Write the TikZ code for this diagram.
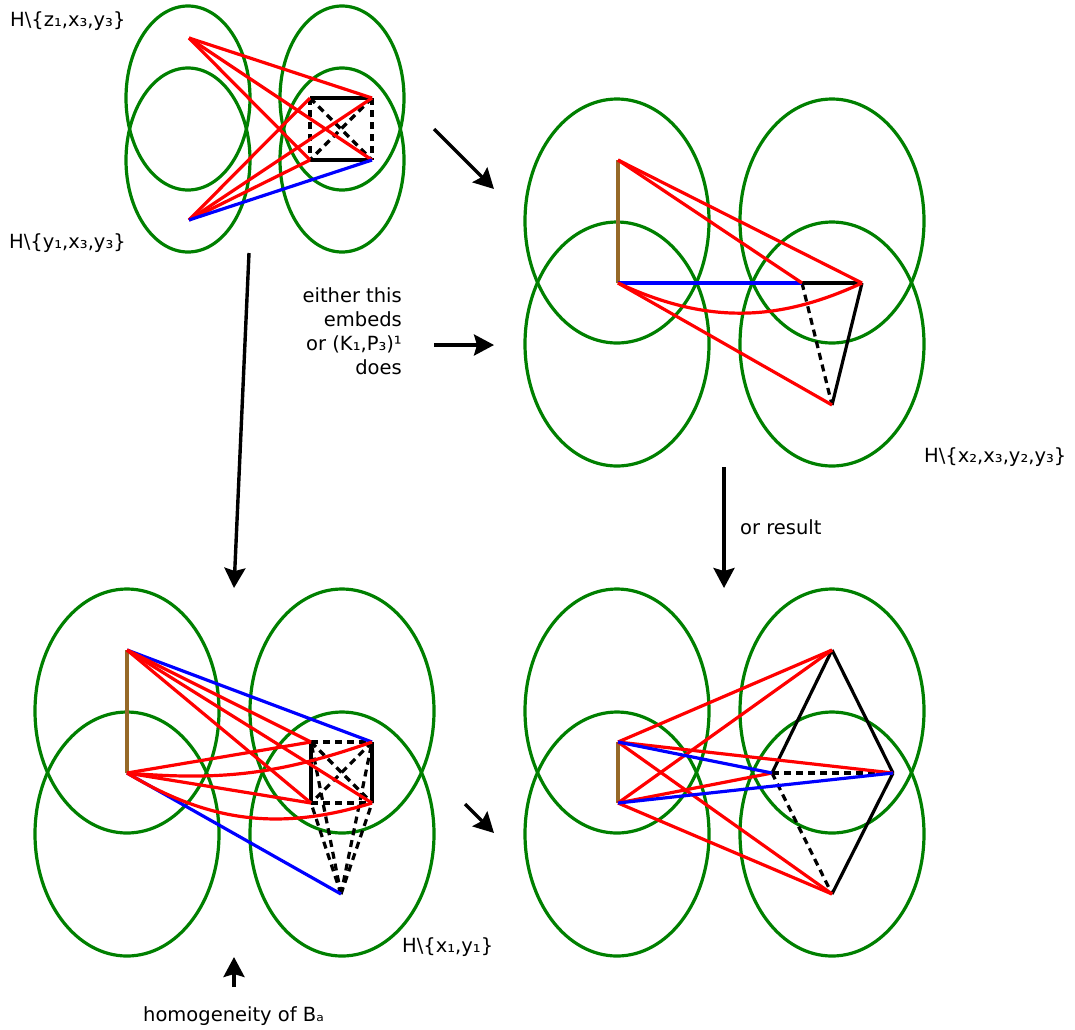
\documentclass[tikz,border=0pt]{standalone}
\usepackage{fontspec}
\setmainfont{DejaVu Sans}
\usetikzlibrary{arrows.meta}
\definecolor{ringgreen}{RGB}{0,128,0}
\definecolor{brownedge}{RGB}{150,105,40}

\begin{document}
\begin{tikzpicture}[x=1pt,y=-1pt,
  ring/.style={draw=ringgreen, line width=3.2pt},
  redge/.style={draw=red, line width=3.2pt},
  bedge/.style={draw=blue, line width=3.2pt},
  kedge/.style={draw=black, line width=3.2pt},
  kdash/.style={draw=black, line width=3.2pt, dash pattern=on 7pt off 5pt},
  oedge/.style={draw=brownedge, line width=3.2pt},
  flow/.style={draw=black, line width=3.4pt, -{Stealth[length=20pt,width=21pt,inset=3pt]}},
  lbl/.style={inner sep=0pt, font=\fontsize{19.5}{24}\selectfont},
]
\useasboundingbox[fill=white] (0,0) rectangle (1075,1029);

% ---------- top left: H minus {z1,x3,y3} / {y1,x3,y3}
\foreach \cx/\cy in {188/98, 188/160, 342/98, 342/160}
  \draw[ring] (\cx,\cy) ellipse [x radius=62pt, y radius=92pt];
\coordinate (z1) at (189,38);
\coordinate (y1) at (189,220);
\coordinate (p1a) at (310,98);
\coordinate (p1b) at (372,98);
\coordinate (p1c) at (310,160);
\coordinate (p1d) at (372,160);
\draw[kedge] (p1a) -- (p1b);
\draw[kedge] (p1c) -- (p1d);
\draw[kdash] (p1a) -- (p1c);
\draw[kdash] (p1b) -- (p1d);
\draw[kdash] (p1a) -- (p1d);
\draw[kdash] (p1b) -- (p1c);
\draw[redge] (z1) -- (p1b);
\draw[redge] (z1) -- (p1d);
\draw[redge] (z1) -- (p1c);
\draw[redge] (y1) -- (p1a);
\draw[redge] (y1) -- (p1b);
\draw[redge] (y1) -- (p1c);
\draw[bedge] (y1) -- (p1d);
\node[lbl, anchor=base west] (lz) at (10,26) {H\textbackslash\{z₁,x₃,y₃\}};
\node[lbl, anchor=base west] (ly) at (9,248) {H\textbackslash\{y₁,x₃,y₃\}};

% ---------- top right: H minus {x2,x3,y2,y3}
\foreach \cx/\cy in {617/221, 617/344, 832/221, 832/344}
  \draw[ring] (\cx,\cy) ellipse [x radius=92pt, y radius=122pt];
\coordinate (q1) at (618,160);
\coordinate (q2) at (618,283);
\coordinate (q3) at (802,283);
\coordinate (q4) at (862,283);
\coordinate (q5) at (832,405);
\draw[oedge] (q1) -- (q2);
\draw[kedge] (q3) -- (q4);
\draw[kedge] (q4) -- (q5);
\draw[kdash] (q3) -- (q5);
\draw[bedge] (q2) -- (q3);
\draw[redge] (q1) -- (q3);
\draw[redge] (q1) -- (q4);
\draw[redge] (q2) -- (q5);
\draw[redge] (q2) to[bend right=25] (q4);
\node[lbl, anchor=base west] (lx) at (924,462) {H\textbackslash\{x₂,x₃,y₂,y₃\}};

% ---------- bottom left: H minus {x1,y1}
\foreach \cx/\cy in {127/711, 127/834, 342/711, 342/834}
  \draw[ring] (\cx,\cy) ellipse [x radius=92pt, y radius=122pt];
\coordinate (r1) at (127,650);
\coordinate (r2) at (127,773);
\coordinate (s1) at (311,742);
\coordinate (s2) at (372,742);
\coordinate (s3) at (311,803);
\coordinate (s4) at (372,803);
\coordinate (s5) at (341,894);
\draw[kedge] (s1) -- (s3);
\draw[kedge] (s2) -- (s4);
\draw[kdash] (s1) -- (s2);
\draw[kdash] (s3) -- (s4);
\draw[kdash] (s1) -- (s4);
\draw[kdash] (s2) -- (s3);
\draw[kdash] (s5) -- (s1);
\draw[kdash] (s5) -- (s2);
\draw[kdash] (s5) -- (s3);
\draw[kdash] (s5) -- (s4);
\draw[oedge] (r1) -- (r2);
\draw[bedge] (r1) -- (s2);
\draw[bedge] (r2) -- (s5);
\draw[redge] (r1) -- (s1);
\draw[redge] (r1) -- (s3);
\draw[redge] (r1) -- (s4);
\draw[redge] (r2) -- (s1);
\draw[redge] (r2) -- (s3);
\draw[redge] (r2) to[bend right=12] (s2);
\draw[redge] (r2) to[bend right=24] (s4);
\node[lbl, anchor=base west] (lxy) at (402,952) {H\textbackslash\{x₁,y₁\}};
\node[lbl, anchor=base west] (lhom) at (143,1021) {homogeneity of Bₐ};

% ---------- bottom right
\foreach \cx/\cy in {617/711, 617/834, 832/711, 832/834}
  \draw[ring] (\cx,\cy) ellipse [x radius=92pt, y radius=122pt];
\coordinate (t1) at (618,742);
\coordinate (t2) at (618,803);
\coordinate (t3) at (772,773);
\coordinate (t4) at (893,773);
\coordinate (t5) at (832,650);
\coordinate (t6) at (832,894);
\draw[kedge] (t5) -- (t3);
\draw[kedge] (t5) -- (t4);
\draw[kedge] (t4) -- (t6);
\draw[kdash] (t3) -- (t4);
\draw[kdash] (t3) -- (t6);
\draw[oedge] (t1) -- (t2);
\draw[redge] (t1) -- (t5);
\draw[redge] (t1) -- (t4);
\draw[redge] (t1) -- (t6);
\draw[redge] (t2) -- (t5);
\draw[redge] (t2) -- (t3);
\draw[redge] (t2) -- (t6);
\draw[bedge] (t1) -- (t3);
\draw[bedge] (t2) -- (t4);

% ---------- arrows and remarks
\coordinate (a1s) at (434,129); \coordinate (a1e) at (494,189);
\coordinate (a2s) at (434,345); \coordinate (a2e) at (494,345);
\coordinate (a3s) at (249,253); \coordinate (a3e) at (234,588);
\coordinate (a4s) at (724,467); \coordinate (a4e) at (724,588);
\coordinate (a5s) at (465,804); \coordinate (a5e) at (494,833);
\coordinate (a6s) at (234,987); \coordinate (a6e) at (234,957);
\draw[flow] (a1s) -- (a1e);
\draw[flow] (a2s) -- (a2e);
\draw[flow] (a3s) -- (a3e);
\draw[flow] (a4s) -- (a4e);
\draw[flow] (a5s) -- (a5e);
\draw[flow] (a6s) -- (a6e);
\node[lbl, anchor=east, align=right] (either) at (402,331)
  {either this\\embeds\\or (K₁,P₃)¹\\does};
\node[lbl, anchor=base west] (lres) at (740,534) {or result};
\end{tikzpicture}
\end{document}
